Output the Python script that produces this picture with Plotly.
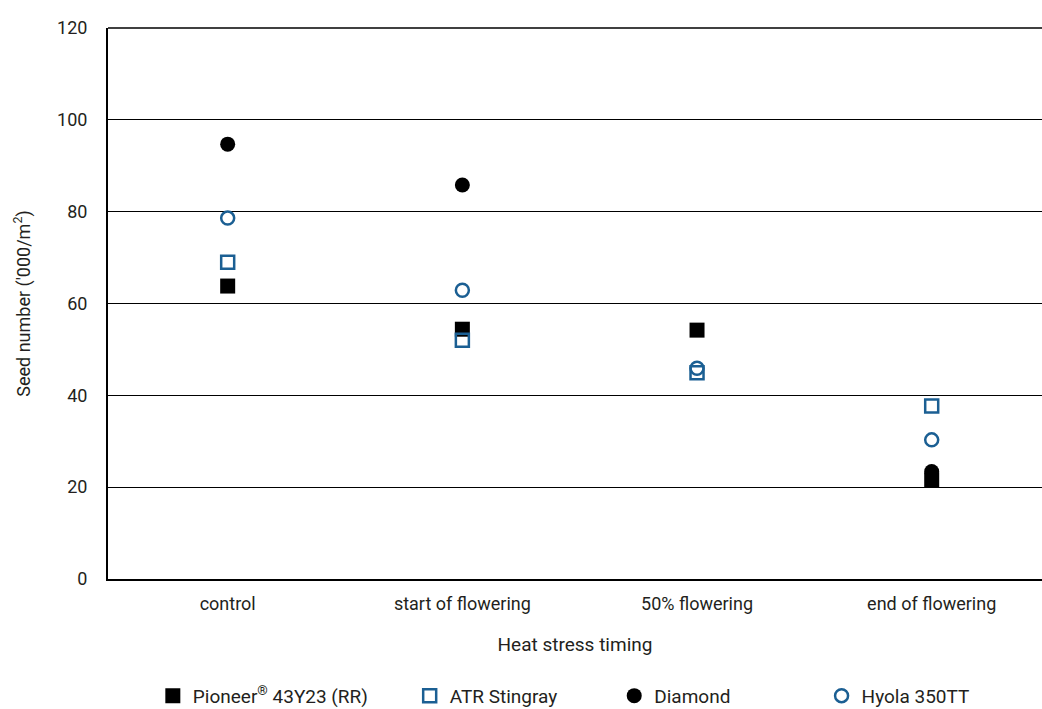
import plotly.graph_objects as go

categories = ["control", "start of flowering", "50% flowering", "end of flowering"]
pioneer = [63.8, 54.4, 54.2, 21.6]
stingray = [69.0, 52.0, 44.9, 37.7]
diamond = [94.7, 85.8, None, 23.4]
hyola = [78.6, 62.9, 45.9, 30.3]

xpos = list(range(len(categories)))
blue = "#1b5f93"
ink = "#231f20"
font_family = "Roboto, sans-serif"

fig = go.Figure()
fig.add_trace(go.Scatter(x=xpos, y=pioneer, mode="markers", name="Pioneer<sup>®</sup> 43Y23 (RR)",
                         legend="legend",
                         marker=dict(symbol="square", size=15, color="black")))
fig.add_trace(go.Scatter(x=xpos, y=stingray, mode="markers", name="ATR Stingray",
                         legend="legend2",
                         marker=dict(symbol="square-open", size=13, color=blue, line=dict(width=2.5, color=blue))))
fig.add_trace(go.Scatter(x=xpos, y=diamond, mode="markers", name="Diamond",
                         legend="legend3",
                         marker=dict(symbol="circle", size=15, color="black")))
fig.add_trace(go.Scatter(x=xpos, y=hyola, mode="markers", name="Hyola 350TT",
                         legend="legend4",
                         marker=dict(symbol="circle-open", size=13, color=blue, line=dict(width=2.5, color=blue))))

leg_common = dict(orientation="h", xanchor="left", y=-0.212, yanchor="middle",
                  font=dict(size=19, color=ink), bgcolor="rgba(0,0,0,0)")

fig.update_layout(
    width=1042, height=709,
    margin=dict(l=108, r=0, t=28, b=130, autoexpand=False),
    plot_bgcolor="white", paper_bgcolor="white",
    font=dict(family=font_family, size=19, color=ink),
    showlegend=True,
    legend=dict(x=0.048, **leg_common),
    legend2=dict(x=0.323, **leg_common),
    legend3=dict(x=0.542, **leg_common),
    legend4=dict(x=0.764, **leg_common),
    xaxis=dict(
        range=[-0.51, 3.47], tickmode="array", tickvals=xpos, ticktext=categories,
        showgrid=False, showline=True, linecolor="black", linewidth=2, ticks="",
        zeroline=False, tickfont=dict(size=18, color=ink), ticklabelstandoff=7,
        title=dict(text="Heat stress timing", font=dict(size=19, color=ink), standoff=25),
    ),
    yaxis=dict(
        range=[0, 120], dtick=20, showgrid=True, gridcolor="black", gridwidth=1,
        showline=True, linecolor="black", linewidth=2, ticks="", zeroline=False,
        tickfont=dict(size=18, color=ink), ticklabelstandoff=15,
        title=dict(text="Seed number ('000/m<sup>2</sup>)", font=dict(size=18, color=ink), standoff=22),
    ),
    shapes=[dict(type="line", xref="paper", yref="paper", x0=0, x1=1, y0=1, y1=1,
                 line=dict(color="black", width=1.5), layer="below")],
)

fig.write_html("out.html", config={"displayModeBar": False},
               post_script="document.body.style.margin='0';document.body.style.padding='0';")
